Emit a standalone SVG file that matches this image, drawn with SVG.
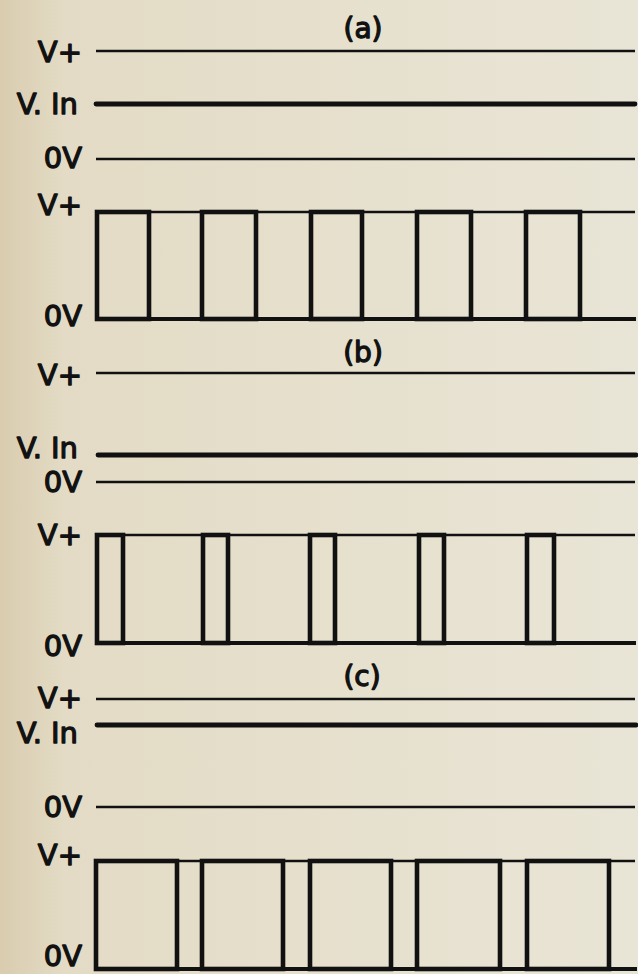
<svg xmlns="http://www.w3.org/2000/svg" width="638" height="974" viewBox="0 0 638 974">
<defs>
<linearGradient id="bg" x1="0" y1="0" x2="1" y2="0">
<stop offset="0" stop-color="#d9ccaf"/>
<stop offset="0.1" stop-color="#e3dbc5"/>
<stop offset="1" stop-color="#e9e5d6"/>
</linearGradient>
<style>
.lbl{font-family:"DejaVu Sans",sans-serif;font-size:29px;fill:#111;stroke:#111;stroke-width:1.3;text-anchor:end;stroke-linejoin:round}
.ttl{font-family:"DejaVu Sans",sans-serif;font-size:28px;fill:#111;stroke:#111;stroke-width:1.3;text-anchor:middle;stroke-linejoin:round}
.thin{stroke:#111;stroke-width:2.4;fill:none}
.vin{stroke:#111;stroke-width:4.8;fill:none;stroke-linecap:round}
.zero{stroke:#111;stroke-width:4;fill:none}
.pulse{stroke:#111;stroke-width:4.6;fill:none}
</style>
</defs>
<rect width="638" height="974" fill="url(#bg)"/>

<g id="panel-a">
<text class="ttl" x="363" y="38">(a)</text>
<g id="labels-a">
<text class="lbl" x="82" y="62">V+</text>
<text class="lbl" x="78" y="114">V.<tspan dx="9">In</tspan></text>
<text class="lbl" x="82" y="168">0V</text>
<text class="lbl" x="82" y="215">V+</text>
<text class="lbl" x="82" y="326">0V</text>
</g>
<g id="lines-a">
<line class="thin" x1="96" y1="51" x2="635" y2="51"/>
<line class="vin" x1="96" y1="104" x2="635" y2="104"/>
<line class="thin" x1="96" y1="159" x2="635" y2="159"/>
</g>
<g id="wave-a">
<line class="thin" x1="97" y1="212" x2="635" y2="212"/>
<line class="zero" x1="97" y1="319" x2="636" y2="319"/>
<rect class="pulse" x="97" y="212" width="52" height="107"/>
<rect class="pulse" x="202" y="212" width="54" height="107"/>
<rect class="pulse" x="311" y="212" width="51" height="107"/>
<rect class="pulse" x="417" y="212" width="54" height="107"/>
<rect class="pulse" x="526" y="212" width="54" height="107"/>
</g>
</g>

<g id="panel-b">
<text class="ttl" x="363" y="362">(b)</text>
<g id="labels-b">
<text class="lbl" x="82" y="385">V+</text>
<text class="lbl" x="78" y="458">V.<tspan dx="9">In</tspan></text>
<text class="lbl" x="82" y="492">0V</text>
<text class="lbl" x="82" y="545">V+</text>
<text class="lbl" x="82" y="656">0V</text>
</g>
<g id="lines-b">
<line class="thin" x1="96" y1="373" x2="635" y2="373"/>
<line class="vin" x1="98" y1="455" x2="636" y2="455"/>
<line class="thin" x1="96" y1="482" x2="635" y2="482"/>
</g>
<g id="wave-b">
<line class="thin" x1="97" y1="535" x2="635" y2="535"/>
<line class="zero" x1="97" y1="643" x2="636" y2="643"/>
<rect class="pulse" x="97" y="535" width="26" height="108"/>
<rect class="pulse" x="203" y="535" width="25" height="108"/>
<rect class="pulse" x="310" y="535" width="25" height="108"/>
<rect class="pulse" x="419" y="535" width="25" height="108"/>
<rect class="pulse" x="527" y="535" width="27" height="108"/>
</g>
</g>

<g id="panel-c">
<text class="ttl" x="362" y="686">(c)</text>
<g id="labels-c">
<text class="lbl" x="82" y="708">V+</text>
<text class="lbl" x="78" y="743">V.<tspan dx="9">In</tspan></text>
<text class="lbl" x="82" y="817">0V</text>
<text class="lbl" x="82" y="865">V+</text>
<text class="lbl" x="82" y="966">0V</text>
</g>
<g id="lines-c">
<line class="thin" x1="96" y1="699" x2="635" y2="699"/>
<line class="vin" x1="97" y1="725" x2="636" y2="725"/>
<line class="thin" x1="96" y1="807" x2="635" y2="807"/>
</g>
<g id="wave-c">
<line class="thin" x1="96" y1="861" x2="635" y2="861"/>
<line class="zero" x1="96" y1="969" x2="637" y2="969"/>
<rect class="pulse" x="96" y="861" width="81" height="108"/>
<rect class="pulse" x="202" y="861" width="81" height="108"/>
<rect class="pulse" x="310" y="861" width="81" height="108"/>
<rect class="pulse" x="417" y="861" width="83" height="108"/>
<rect class="pulse" x="527" y="861" width="82" height="108"/>
</g>
</g>
</svg>
